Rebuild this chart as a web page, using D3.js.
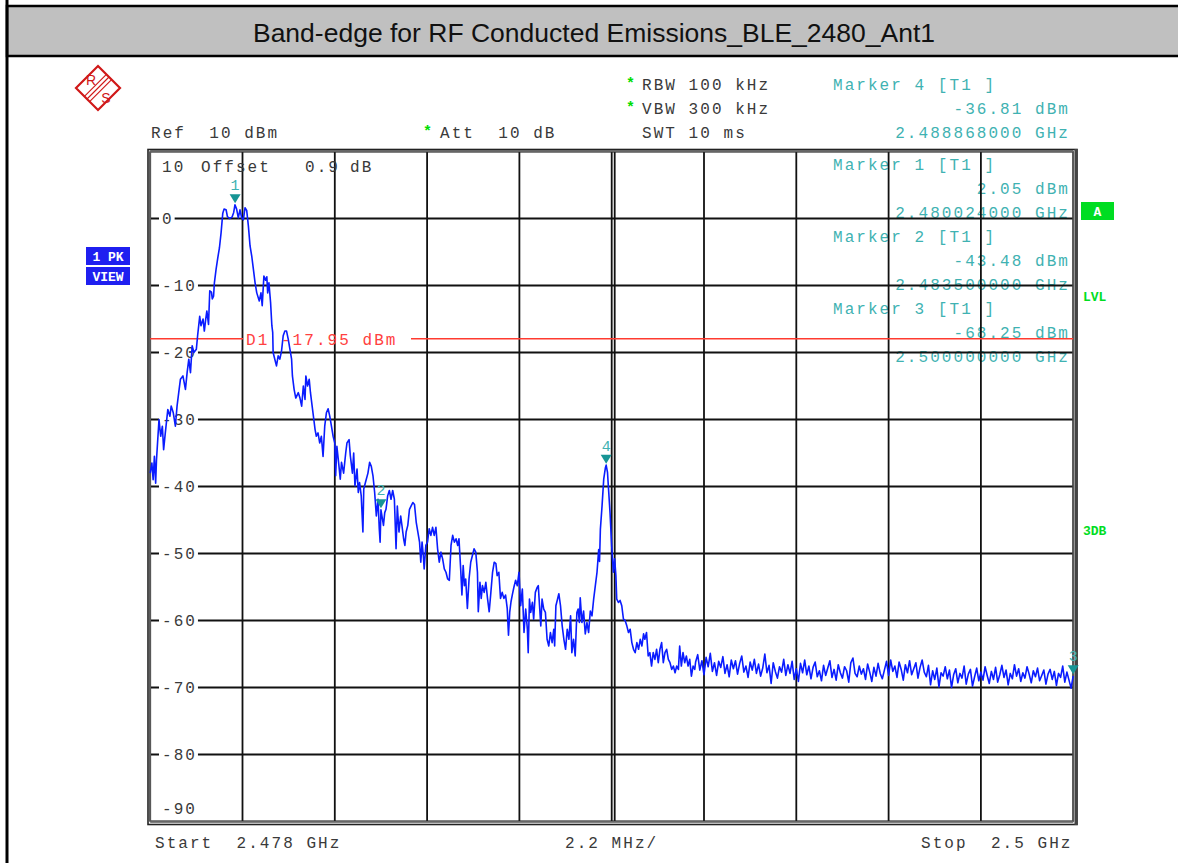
<html>
<head>
<meta charset="utf-8">
<title>Band-edge</title>
<style>
  body { margin: 0; background: #fff; overflow: hidden; }
  .mono { font-family: "Liberation Mono", "DejaVu Sans Mono", monospace; font-size: 16px; letter-spacing: 2.05px; fill: #3a3a3a; white-space: pre; }
  .mk { fill: #3fb2b2; }
  .star { fill: #00dd00; font-family: "Liberation Mono", monospace; font-size: 15px; font-weight: bold; }
  .grid { stroke: #111; stroke-width: 1.8; }
  .trace { fill: none; stroke: #0a1cff; stroke-width: 1.6; stroke-linejoin: round; }
  .badge { font-family: "Liberation Mono", "DejaVu Sans Mono", monospace; font-size: 13px; font-weight: bold; white-space: pre; }
</style>
</head>
<body>
<script src="https://cdn.jsdelivr.net/npm/d3@7"></script>
<script>
  var title = "Band-edge for RF Conducted Emissions_BLE_2480_Ant1";
  var startMHz = 2478, stopMHz = 2500, divMHz = 2.2;
  var refDbm = 10, bottomDbm = -90;
  var yLabels = [0, -10, -20, -30, -40, -50, -60, -70, -80];
  var d1Dbm = -17.95;

  var markerNames = ["1", "2", "3", "4"];
  var markerMHz = [2480.024, 2483.5, 2500.0, 2488.868];
  var markerDbm = [2.05, -43.48, -68.25, -36.81];
  var markerBlock = [
    ["Marker 4 [T1 ]", "-36.81 dBm", "2.488868000 GHz"],
    ["Marker 1 [T1 ]", "2.05 dBm", "2.480024000 GHz"],
    ["Marker 2 [T1 ]", "-43.48 dBm", "2.483500000 GHz"],
    ["Marker 3 [T1 ]", "-68.25 dBm", "2.500000000 GHz"]
  ];

  // trace, [MHz, dBm]
  var trace = [
    [2478.00,-38.0],[2478.04,-36.5],[2478.07,-39.0],[2478.10,-35.5],[2478.13,-39.5],[2478.15,-36.0],[2478.21,-30.0],[2478.25,-32.5],
    [2478.29,-31.0],[2478.32,-34.5],[2478.36,-32.0],[2478.42,-28.5],[2478.47,-29.5],[2478.50,-28.0],[2478.55,-29.0],[2478.60,-31.0],
    [2478.64,-28.0],[2478.68,-26.0],[2478.72,-24.0],[2478.78,-23.5],[2478.84,-25.5],[2478.88,-23.0],[2478.92,-21.0],[2478.96,-23.0],
    [2479.00,-19.0],[2479.04,-20.0],[2479.10,-19.5],[2479.13,-17.5],[2479.18,-14.6],[2479.21,-16.0],[2479.26,-15.0],[2479.29,-16.8],
    [2479.32,-15.2],[2479.35,-13.8],[2479.39,-15.8],[2479.42,-10.8],[2479.46,-11.0],[2479.48,-12.0],[2479.51,-11.6],[2479.53,-9.6],
    [2479.57,-7.6],[2479.61,-5.9],[2479.65,-4.4],[2479.69,-2.1],[2479.73,0.8],[2479.76,1.4],[2479.81,1.3],[2479.84,0.3],
    [2479.89,0.0],[2479.95,0.2],[2479.99,0.9],[2480.02,2.05],[2480.06,1.4],[2480.10,0.1],[2480.14,1.3],[2480.18,0.1],
    [2480.22,-0.2],[2480.26,1.6],[2480.30,1.2],[2480.34,-1.1],[2480.38,-4.1],[2480.42,-5.6],[2480.46,-7.6],[2480.50,-9.6],
    [2480.54,-11.1],[2480.60,-12.3],[2480.64,-11.1],[2480.67,-13.0],[2480.71,-8.6],[2480.75,-9.2],[2480.78,-8.7],[2480.80,-11.1],
    [2480.83,-9.6],[2480.87,-12.6],[2480.90,-16.0],[2480.92,-17.0],[2480.93,-20.0],[2480.97,-21.0],[2481.01,-22.0],[2481.05,-20.5],
    [2481.09,-21.0],[2481.13,-19.8],[2481.17,-17.5],[2481.21,-16.8],[2481.25,-16.8],[2481.29,-18.0],[2481.33,-19.5],[2481.37,-21.0],
    [2481.39,-23.5],[2481.43,-25.5],[2481.47,-26.8],[2481.53,-26.0],[2481.57,-26.8],[2481.61,-28.0],[2481.65,-25.0],[2481.69,-27.0],
    [2481.71,-23.5],[2481.75,-25.0],[2481.79,-24.0],[2481.82,-26.0],[2481.86,-28.0],[2481.90,-30.0],[2481.93,-31.5],[2481.96,-32.5],
    [2482.00,-32.0],[2482.04,-33.5],[2482.08,-32.5],[2482.12,-35.5],[2482.16,-31.0],[2482.20,-29.0],[2482.24,-28.4],[2482.28,-29.5],
    [2482.32,-31.0],[2482.36,-32.5],[2482.40,-33.5],[2482.42,-38.4],[2482.45,-34.0],[2482.50,-37.0],[2482.53,-38.9],[2482.56,-36.4],
    [2482.61,-38.0],[2482.66,-35.0],[2482.69,-33.5],[2482.74,-33.0],[2482.77,-35.4],[2482.82,-38.0],[2482.85,-35.0],[2482.88,-39.9],
    [2482.93,-37.4],[2482.96,-40.9],[2482.99,-39.4],[2483.03,-41.4],[2483.07,-46.8],[2483.09,-40.4],[2483.13,-39.4],[2483.19,-38.0],
    [2483.23,-36.4],[2483.27,-37.0],[2483.31,-38.4],[2483.35,-40.9],[2483.39,-44.4],[2483.43,-41.9],[2483.46,-46.3],[2483.48,-48.3],
    [2483.50,-43.48],[2483.56,-45.8],[2483.59,-43.9],[2483.62,-43.4],[2483.66,-41.4],[2483.70,-40.6],[2483.74,-41.9],[2483.78,-40.6],
    [2483.82,-41.9],[2483.86,-49.3],[2483.89,-42.9],[2483.93,-46.8],[2483.97,-44.4],[2484.00,-45.8],[2484.04,-47.8],[2484.07,-48.8],
    [2484.10,-46.8],[2484.14,-45.8],[2484.18,-43.4],[2484.22,-42.9],[2484.26,-42.4],[2484.30,-42.7],[2484.34,-45.3],[2484.38,-46.8],
    [2484.42,-48.3],[2484.45,-51.3],[2484.48,-48.3],[2484.51,-50.3],[2484.53,-52.3],[2484.57,-48.8],[2484.61,-48.3],[2484.65,-46.3],
    [2484.69,-47.3],[2484.73,-46.1],[2484.77,-47.3],[2484.81,-46.1],[2484.85,-49.3],[2484.89,-51.3],[2484.93,-49.8],[2484.97,-50.8],
    [2485.01,-52.3],[2485.05,-52.8],[2485.09,-53.8],[2485.13,-54.0],[2485.17,-48.8],[2485.21,-47.3],[2485.25,-48.3],[2485.29,-47.8],
    [2485.33,-48.8],[2485.36,-47.8],[2485.40,-52.3],[2485.43,-56.2],[2485.46,-51.8],[2485.49,-54.8],[2485.52,-53.8],[2485.56,-58.2],
    [2485.60,-53.8],[2485.64,-51.3],[2485.68,-50.3],[2485.72,-49.3],[2485.76,-49.8],[2485.80,-52.8],[2485.82,-58.7],[2485.86,-54.3],
    [2485.89,-56.7],[2485.92,-54.8],[2485.96,-55.8],[2486.00,-54.3],[2486.04,-56.7],[2486.08,-58.7],[2486.12,-55.8],[2486.16,-52.8],
    [2486.20,-51.3],[2486.24,-51.5],[2486.27,-53.3],[2486.31,-52.8],[2486.35,-56.7],[2486.39,-55.8],[2486.43,-56.7],[2486.47,-56.2],
    [2486.51,-58.2],[2486.54,-62.2],[2486.57,-58.7],[2486.60,-57.2],[2486.63,-56.2],[2486.67,-55.0],[2486.71,-54.0],[2486.75,-54.8],
    [2486.79,-52.8],[2486.83,-57.8],[2486.87,-55.3],[2486.91,-61.8],[2486.95,-58.3],[2486.99,-61.3],[2487.01,-64.8],[2487.04,-56.8],
    [2487.07,-58.8],[2487.11,-57.3],[2487.14,-59.8],[2487.18,-55.8],[2487.22,-55.1],[2487.25,-54.8],[2487.28,-57.8],[2487.31,-60.8],
    [2487.34,-56.8],[2487.38,-58.3],[2487.42,-58.8],[2487.46,-62.8],[2487.50,-63.8],[2487.54,-61.8],[2487.58,-63.3],[2487.62,-61.3],
    [2487.64,-63.8],[2487.67,-57.8],[2487.71,-56.8],[2487.74,-56.0],[2487.78,-57.8],[2487.82,-60.8],[2487.86,-62.8],[2487.90,-64.3],
    [2487.94,-61.3],[2487.98,-62.8],[2488.02,-59.3],[2488.05,-64.8],[2488.09,-62.8],[2488.13,-65.3],[2488.17,-58.8],[2488.20,-58.3],
    [2488.23,-60.3],[2488.25,-56.6],[2488.29,-60.3],[2488.33,-58.6],[2488.37,-62.0],[2488.41,-60.3],[2488.45,-61.8],[2488.49,-58.6],
    [2488.53,-59.3],[2488.57,-56.8],[2488.61,-54.8],[2488.65,-52.8],[2488.69,-49.4],[2488.71,-51.2],[2488.73,-46.4],[2488.77,-42.9],
    [2488.81,-38.9],[2488.85,-37.2],[2488.868,-36.81],[2488.90,-37.9],[2488.92,-39.9],[2488.96,-43.9],[2489.00,-48.9],[2489.04,-52.8],
    [2489.07,-50.8],[2489.10,-53.3],[2489.12,-56.8],[2489.16,-57.3],[2489.20,-57.0],[2489.24,-57.8],[2489.28,-59.8],[2489.32,-60.0],
    [2489.36,-60.8],[2489.40,-61.8],[2489.44,-61.3],[2489.48,-63.3],[2489.52,-64.3],[2489.56,-64.8],[2489.60,-63.3],[2489.64,-64.3],
    [2489.68,-62.8],[2489.72,-63.8],[2489.76,-62.0],[2489.79,-62.8],[2489.83,-61.8],[2489.87,-65.3],[2489.91,-64.8],[2489.95,-66.8],
    [2489.99,-64.8],[2490.03,-65.8],[2490.07,-64.3],[2490.11,-66.3],[2490.15,-64.3],[2490.19,-63.3],[2490.23,-66.3],[2490.27,-64.8],
    [2490.31,-64.3],[2490.35,-65.8],[2490.39,-66.3],[2490.43,-67.3],[2490.47,-66.8],[2490.51,-67.8],[2490.55,-66.8],[2490.59,-67.3],
    [2490.62,-63.8],[2490.66,-66.8],[2490.70,-64.8],[2490.74,-66.3],[2490.78,-65.3],[2490.82,-66.8],[2490.86,-65.8],[2490.90,-68.3],
    [2490.94,-66.8],[2490.98,-67.3]
  ];

  // noise floor, every 50 kHz from 2491 MHz to 2500 MHz
  var floorStartMHz = 2491.0, floorStepMHz = 0.05;
  var floorDbm = [
    -66.2,-65.1,-67.4,-66.0,-68.1,-65.5,-66.9,-64.9,-67.6,-66.3,
    -68.2,-66.1,-67.0,-65.4,-67.9,-66.6,-68.4,-65.9,-67.2,-66.0,
    -68.0,-66.4,-65.3,-67.7,-66.8,-68.5,-66.2,-67.4,-65.8,-67.9,
    -66.5,-68.3,-67.1,-65.0,-67.8,-66.7,-69.4,-66.3,-67.6,-68.6,
    -66.9,-67.7,-65.8,-68.2,-66.6,-67.9,-66.1,-68.8,-67.2,-69.1,
    -66.4,-67.8,-65.9,-68.1,-66.8,-68.7,-67.0,-66.2,-68.4,-67.5,
    -69.0,-66.7,-68.2,-67.1,-66.0,-68.5,-67.3,-68.9,-66.6,-67.8,
    -68.6,-66.9,-67.5,-69.2,-66.3,-65.6,-67.9,-68.4,-66.8,-68.0,
    -67.2,-68.8,-66.5,-67.7,-69.1,-67.0,-68.3,-66.4,-67.9,-68.7,
    -67.4,-66.1,-68.2,-65.9,-67.6,-66.8,-68.5,-66.2,-67.3,-68.9,
    -66.6,-67.8,-66.0,-68.1,-67.2,-66.3,-68.6,-67.0,-65.9,-67.7,
    -68.4,-66.7,-69.6,-67.5,-68.8,-67.1,-69.9,-67.8,-68.3,-66.9,
    -68.7,-67.4,-70.0,-68.1,-67.2,-69.3,-67.9,-68.6,-66.8,-69.5,
    -68.0,-67.3,-69.8,-68.4,-67.1,-69.0,-67.7,-68.9,-66.9,-68.2,
    -69.4,-67.6,-68.8,-67.0,-69.2,-68.1,-66.7,-68.5,-67.4,-69.6,
    -67.9,-68.7,-66.6,-68.3,-67.2,-69.1,-67.8,-68.6,-66.9,-68.0,
    -69.3,-67.5,-68.4,-67.1,-69.0,-68.2,-67.4,-69.5,-68.0,-67.3,
    -68.8,-67.6,-69.7,-67.9,-68.5,-66.8,-69.2,-67.7,-68.9,-70.1,
    -68.25
  ];

  var W = 1178, H = 863;
  var svg = d3.select("body").append("svg").attr("width", W).attr("height", H);

  var x = d3.scaleLinear().domain([startMHz, stopMHz]).range([150.2, 1073.2]);
  var y = d3.scaleLinear().domain([refDbm, bottomDbm]).range([151.5, 821.5]);

  // page frame + title band
  svg.append("rect").attr("x", 7).attr("y", 6).attr("width", W).attr("height", 50)
    .attr("fill", "#c0c0c0").attr("stroke", "#000").attr("stroke-width", 2.5);
  svg.append("line").attr("x1", 7).attr("x2", 7).attr("y1", 0).attr("y2", H)
    .attr("stroke", "#000").attr("stroke-width", 3);
  svg.append("text").attr("x", 594).attr("y", 42).attr("text-anchor", "middle")
    .style("font-family", "'Liberation Sans', Arial, sans-serif").style("font-size", "26.5px")
    .attr("fill", "#111").text(title);

  // R&S logo
  var logo = svg.append("g").attr("transform", "translate(98,88)").attr("stroke", "#d01818").attr("fill", "none");
  logo.append("path").attr("d", "M0,-22L22,0L0,22L-22,0Z").attr("stroke-width", 2.2);
  [-2.6, 0, 2.6].forEach(function (o) {
    logo.append("line").attr("x1", 11 + o).attr("y1", -11 + o).attr("x2", -11 + o).attr("y2", 11 + o).attr("stroke-width", 1.1);
  });
  logo.append("text").attr("x", -7).attr("y", -3).attr("text-anchor", "middle").attr("stroke", "none").attr("fill", "#d01818")
    .style("font-family", "'Liberation Sans', sans-serif").style("font-size", "14px").text("R");
  logo.append("text").attr("x", 8).attr("y", 15).attr("text-anchor", "middle").attr("stroke", "none").attr("fill", "#d01818")
    .style("font-family", "'Liberation Sans', sans-serif").style("font-size", "14px").text("S");

  function mono(xp, yp, s, anchor, cls) {
    return svg.append("text").attr("class", "mono" + (cls ? " " + cls : ""))
      .attr("x", xp).attr("y", yp).attr("text-anchor", anchor || "start").text(s);
  }
  function star(xp, yp) {
    svg.append("text").attr("class", "star").attr("x", xp).attr("y", yp).text("*");
  }

  // settings
  star(626, 88); mono(642, 90, "RBW 100 kHz");
  star(626, 112); mono(642, 114, "VBW 300 kHz");
  mono(642, 138, "SWT 10 ms");
  mono(151, 138, "Ref  10 dBm");
  star(423, 136); mono(440, 138, "Att  10 dB");

  // marker table (drawn under the grid)
  markerBlock.forEach(function (b, i) {
    var base = i == 0 ? 90 : 170 + (i - 1) * 72;
    mono(833, base, b[0], "start", "mk");
    mono(1070, base + 24, b[1], "end", "mk");
    mono(1070, base + 48, b[2], "end", "mk");
  });

  // grid
  var g = svg.append("g");
  var vLines = d3.range(startMHz, stopMHz + 0.001, divMHz);
  g.selectAll(".v").data(vLines).enter().append("line").attr("class", "grid")
    .attr("x1", function (d) { return x(d); }).attr("x2", function (d) { return x(d); })
    .attr("y1", y(refDbm)).attr("y2", y(bottomDbm));
  // doubled centre line
  g.append("line").attr("class", "grid").attr("x1", x(2489) + 3).attr("x2", x(2489) + 3)
    .attr("y1", y(refDbm)).attr("y2", y(bottomDbm));
  var hLines = d3.range(refDbm, bottomDbm - 0.001, -10);
  g.selectAll(".h").data(hLines).enter().append("line").attr("class", "grid")
    .attr("x1", x(startMHz)).attr("x2", x(stopMHz))
    .attr("y1", function (d) { return y(d); }).attr("y2", function (d) { return y(d); });

  // frame
  svg.append("rect").attr("x", 148).attr("y", 149.5).attr("width", 929).attr("height", 675)
    .attr("fill", "none").attr("stroke", "#222").attr("stroke-width", 1.6);
  svg.append("rect").attr("x", x(startMHz)).attr("y", y(refDbm)).attr("width", x(stopMHz) - x(startMHz))
    .attr("height", y(bottomDbm) - y(refDbm)).attr("fill", "none").attr("stroke", "#666").attr("stroke-width", 1.3);
  svg.append("line").attr("x1", 1076).attr("x2", 1076).attr("y1", 149).attr("y2", 825)
    .attr("stroke", "#444").attr("stroke-width", 3);

  // level labels with white backing
  yLabels.forEach(function (v) {
    var s = String(v);
    svg.append("rect").attr("x", 159).attr("y", y(v) - 8).attr("width", s.length * 11.65 + 4).attr("height", 16).attr("fill", "#fff");
    mono(162, y(v) + 5.5, s);
  });
  mono(162, 172, "10"); mono(201, 172, "Offset"); mono(305, 172, "0.9"); mono(350, 172, "dB");
  mono(162, 814, "-90");

  // display line D1
  var yd = y(d1Dbm);
  svg.append("line").attr("x1", x(startMHz)).attr("x2", 243).attr("y1", yd).attr("y2", yd).attr("stroke", "#ff3b30").attr("stroke-width", 1.6);
  svg.append("line").attr("x1", 411).attr("x2", x(stopMHz)).attr("y1", yd).attr("y2", yd).attr("stroke", "#ff3b30").attr("stroke-width", 1.6);
  mono(246, yd + 6, "D1 -17.95 dBm").style("fill", "#ff4040");

  // trace
  var pts = trace.concat(floorDbm.map(function (v, i) { return [floorStartMHz + i * floorStepMHz, v]; }));
  var line = d3.line().x(function (d) { return x(d[0]); }).y(function (d) { return y(d[1]); });
  svg.append("path").datum(pts).attr("class", "trace").attr("d", line);

  // markers
  markerNames.forEach(function (m, i) {
    var mx = x(markerMHz[i]), my = y(markerDbm[i]) - 1.5;
    svg.append("path").attr("d", "M" + (mx - 5.5) + "," + (my - 9) + "L" + (mx + 5.5) + "," + (my - 9) + "L" + mx + "," + my + "Z")
      .attr("fill", "#169595");
    svg.append("text").attr("x", mx).attr("y", my - 13).attr("text-anchor", "middle")
      .style("font-family", "'Liberation Mono', monospace").style("font-size", "15px").attr("fill", "#3fb2b2").text(m);
  });

  // side badges
  function badge(xp, yp, w, s, fillBg, fillTx) {
    svg.append("rect").attr("x", xp).attr("y", yp).attr("width", w).attr("height", 18).attr("fill", fillBg);
    svg.append("text").attr("class", "badge").attr("x", xp + w / 2).attr("y", yp + 13.5)
      .attr("text-anchor", "middle").attr("fill", fillTx).text(s);
  }
  badge(86, 247, 44, "1 PK", "#1f1ff0", "#fff");
  badge(86, 267, 44, "VIEW", "#1f1ff0", "#fff");
  badge(1081, 202, 33, "A", "#00dd22", "#fff");
  svg.append("text").attr("class", "badge").attr("x", 1083).attr("y", 301).attr("fill", "#00dd22").text("LVL");
  svg.append("text").attr("class", "badge").attr("x", 1083).attr("y", 535).attr("fill", "#00dd22").text("3DB");

  // bottom
  mono(155, 848, "Start  2.478 GHz");
  mono(565, 848, "2.2 MHz/");
  mono(921, 848, "Stop  2.5 GHz");
</script>
</body>
</html>
